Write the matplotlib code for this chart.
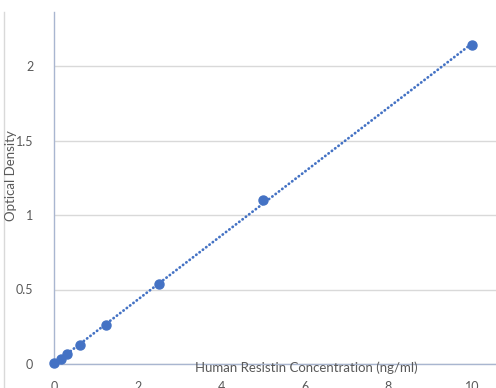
import numpy as np
import matplotlib
matplotlib.use("Agg")
import matplotlib.pyplot as plt
from matplotlib.lines import Line2D

concentration = [0, 0.156, 0.3125, 0.625, 1.25, 2.5, 5, 10]
optical_density = [0.005, 0.034, 0.066, 0.13, 0.26, 0.54, 1.10, 2.14]
x_ticks = [0, 2, 4, 6, 8, 10]
y_ticks = [0, 0.5, 1, 1.5, 2]
y_tick_labels = ["0", "0.5", "1", "1.5", "2"]

plt.rcParams['font.family'] = ['Lato', 'DejaVu Sans']
gray = '#595959'
blue = '#4472C4'

W, H = 496, 388
fig = plt.figure(figsize=(W / 100, H / 100), dpi=100)
ax = fig.add_axes([54 / W, (H - 364) / H, (W - 54) / W, (364 - 12) / H])

ax.set_xlim(0, (W - 54) / 41.8)
ax.set_ylim(0, (364 - 12) / 149.0)

# linear trendline
coef = np.polyfit(concentration, optical_density, 1)
xs = np.array([min(concentration), max(concentration)])
ax.plot(xs, np.polyval(coef, xs), linestyle=(0, (0.1, 1.4)), color=blue,
        linewidth=2.0, dash_capstyle='round', zorder=3)
ax.plot(concentration, optical_density, 'o', color=blue, markersize=6.5,
        zorder=4, clip_on=False)

ax.set_xticks(x_ticks)
ax.set_yticks(y_ticks)
ax.set_yticklabels(y_tick_labels)
ax.tick_params(axis='both', length=0, labelsize=9, colors=gray)
ax.tick_params(axis='x', pad=12)
ax.tick_params(axis='y', pad=15)

ax.grid(axis='y', color='#d9d9d9', linewidth=1.0)
ax.set_axisbelow(True)
for s in ['top', 'right']:
    ax.spines[s].set_visible(False)
ax.spines['left'].set_color('#a9b6d0')
ax.spines['bottom'].set_color('#a9b6d0')
ax.spines['left'].set_linewidth(1.0)
ax.spines['bottom'].set_linewidth(1.0)

fig.text(11 / W, 1 - 176 / H, "Optical Density", rotation=90, ha='center',
         va='center', fontsize=9.5, color=gray)
fig.text(306 / W, 1 - 368 / H, "Human Resistin Concentration (ng/ml)",
         ha='center', va='center', fontsize=9.5, color=gray)

fig.add_artist(Line2D([4 / W, 4 / W], [0, 1 - 12 / H], transform=fig.transFigure,
                      color='#d9d9d9', linewidth=1.0))

fig.savefig("out.png", dpi=100)
